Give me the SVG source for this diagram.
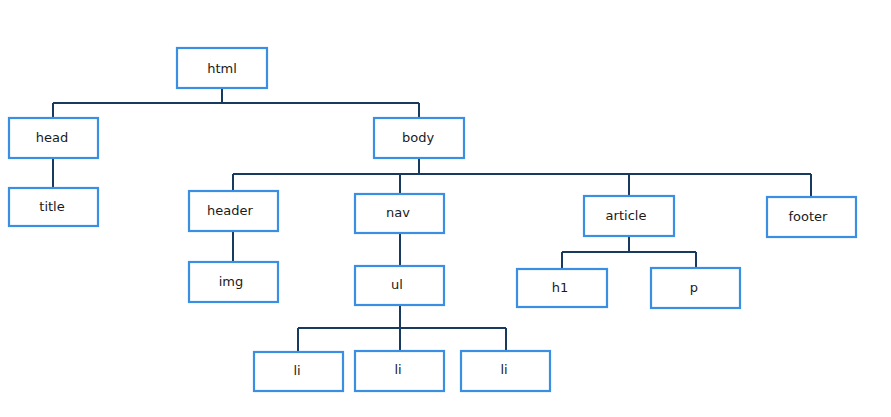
<svg xmlns="http://www.w3.org/2000/svg" width="891" height="417" viewBox="0 0 891 417">
<style>
.n rect{fill:#fff;stroke:#3b8fe3;stroke-width:2.2}
.n text{font-family:"DejaVu Sans",sans-serif;font-size:13px;fill:#1a1a1a;text-anchor:middle}
#edges path{fill:none;stroke:#173a5e;stroke-width:2}
</style>
<rect width="891" height="417" fill="#fff"/>
<g id="edges">
<path d="M222 88V103M53 103H419M53 103V118M419 103V118"/>
<path d="M53 158V188"/>
<path d="M419 158V174M233 174H811M233 174V191M400 174V194M629 174V196M811 174V197"/>
<path d="M233 231V262"/>
<path d="M400 233V266"/>
<path d="M629 236V252M562 252H696M562 252V269M696 252V268"/>
<path d="M400 305V351M298 328H506M298 328V352M506 328V351"/>
</g>
<g id="html" class="n"><rect x="177" y="48" width="90" height="40"/><text x="222" y="73">html</text></g>
<g id="head" class="n"><rect x="9" y="118" width="89" height="40"/><text x="52" y="142">head</text></g>
<g id="body" class="n"><rect x="374" y="118" width="90" height="40"/><text x="418" y="142">body</text></g>
<g id="title" class="n"><rect x="9" y="188" width="89" height="38"/><text x="52" y="211">title</text></g>
<g id="header" class="n"><rect x="189" y="191" width="89" height="40"/><text x="230" y="215">header</text></g>
<g id="nav" class="n"><rect x="355" y="194" width="89" height="39"/><text x="398" y="217">nav</text></g>
<g id="article" class="n"><rect x="584" y="196" width="90" height="40"/><text x="626" y="220">article</text></g>
<g id="footer" class="n"><rect x="767" y="197" width="89" height="40"/><text x="808" y="221">footer</text></g>
<g id="img" class="n"><rect x="189" y="262" width="89" height="40"/><text x="231" y="286">img</text></g>
<g id="ul" class="n"><rect x="355" y="266" width="89" height="39"/><text x="397" y="289">ul</text></g>
<g id="h1" class="n"><rect x="517" y="269" width="90" height="38"/><text x="560" y="292">h1</text></g>
<g id="p" class="n"><rect x="651" y="268" width="89" height="40"/><text x="694" y="292">p</text></g>
<g id="li1" class="n"><rect x="254" y="352" width="89" height="39"/><text x="297" y="375">li</text></g>
<g id="li2" class="n"><rect x="355" y="351" width="89" height="40"/><text x="398" y="374">li</text></g>
<g id="li3" class="n"><rect x="461" y="351" width="89" height="40"/><text x="504" y="374">li</text></g>
</svg>
